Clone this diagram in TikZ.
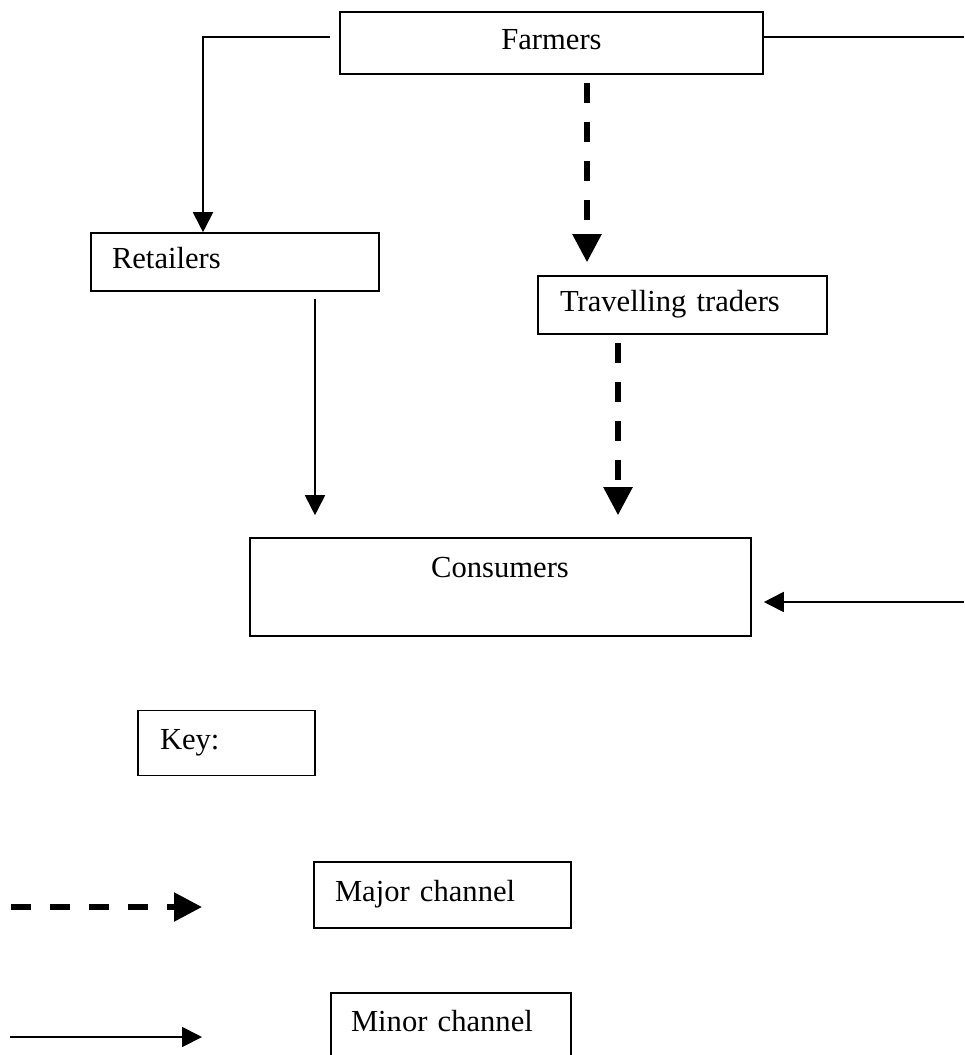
\documentclass[tikz,border=0pt]{standalone}
\usepackage{fontspec}
\setmainfont{Liberation Serif}
\usetikzlibrary{arrows.meta}
\tikzset{
  boxtext/.style={font=\fontsize{15.3pt}{18pt}\selectfont, text height=0.75em, text depth=0.1em, inner ysep=0pt},
  chainbox/.style={boxtext, draw, line width=0.8pt},
  thinline/.style={line width=0.9pt},
  minorarrow/.style={thinline, -{Triangle[length=10pt,width=10pt]}},
  majorarrow/.style={line width=2.7pt, dash pattern=on 10pt off 9.5pt, -{Triangle[length=14pt,width=14pt]}}
}
\begin{document}
\begin{tikzpicture}[x=0.5pt,y=-0.5pt]
\useasboundingbox (0,0) rectangle (964,1055);
\clip (0,0) rectangle (964,1055);
\node[chainbox, minimum width=211.5pt, minimum height=31pt] (farmers) at (551.5,43) {Farmers};
\node[chainbox, text width=123pt, inner xsep=10.5pt, align=left, minimum height=29pt] (retailers) at (235,262) {Retailers};
\node[chainbox, text width=122.5pt, inner xsep=11pt, align=left, minimum height=29pt] (traders) at (682.5,305) {Travelling traders};
\node[chainbox, minimum width=250.5pt, minimum height=49pt] (consumers) at (500.5,587) {};
\node[boxtext] (consumerstext) at (500,571) {Consumers};
\node[chainbox, text width=66.5pt, inner xsep=11pt, align=left, minimum height=32.5pt] (key) at (226.5,743) {Key:};
\node[chainbox, text width=107.5pt, inner xsep=10.5pt, align=left, minimum height=33pt] (major) at (442.5,895) {Major channel};
\node[chainbox, text width=100pt, inner xsep=10pt, align=left, minimum height=32pt] (minor) at (451,1025) {Minor channel};
\coordinate (farmersright) at (964,37);
\coordinate (consumersright) at (964,602);
\coordinate (majorstart) at (11,907);
\coordinate (majorend) at (202,907);
\coordinate (minorstart) at (10,1037);
\coordinate (minorend) at (202,1037);
\draw[minorarrow] ([shift={(-9,-6)}]farmers.west) -| ([xshift=-16pt]retailers.north);
\draw[thinline] ([yshift=3pt]farmers.east) -- (farmersright);
\draw[majorarrow, shorten >=6.5pt] ([xshift=17.75pt,yshift=-4pt]farmers.south) -- ([xshift=17.75pt]farmers.south |- traders.north);
\draw[minorarrow, shorten >=11pt] ([xshift=40pt,yshift=-3.5pt]retailers.south) -- ([xshift=40pt]retailers.south |- consumers.north);
\draw[majorarrow, shorten >=11pt] ([xshift=-32.25pt,yshift=-4pt]traders.south) -- ([xshift=-32.25pt]traders.south |- consumers.north);
\draw[minorarrow, shorten >=6pt] (consumersright) -- (consumersright -| consumers.east);
\draw[majorarrow] (majorstart) -- (majorend);
\draw[minorarrow] (minorstart) -- (minorend);
\end{tikzpicture}
\end{document}
